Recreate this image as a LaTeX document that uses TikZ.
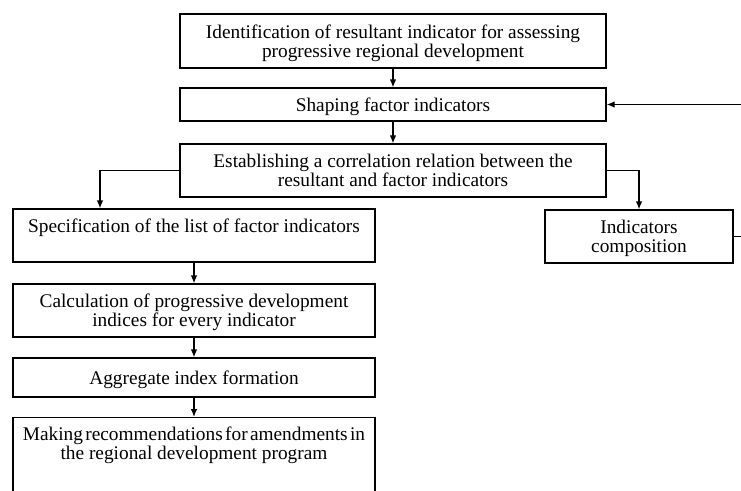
\documentclass[tikz,border=0pt]{standalone}
\usepackage{fontspec}
\setmainfont{Liberation Serif}
\usetikzlibrary{arrows.meta}
\tikzset{
  box/.style={draw, line width=1pt, align=center, inner sep=0pt, text depth=0pt,
    font=\fontsize{14.5}{14}\selectfont},
  label/.style={align=center, inner sep=0pt, text depth=0pt,
    font=\fontsize{14.5}{14}\selectfont},
  arrow/.style={line width=1pt, -{Latex[length=6pt,width=5pt]}}
}
\newcommand{\tightwords}{\spaceskip=0.12em plus 0.05em\relax}
\begin{document}
\begin{tikzpicture}[x=0.75pt,y=-0.75pt]
  \useasboundingbox (0,0) rectangle (741,490);
  \fill[white] (0,0) rectangle (741,490);
  \clip (0,0) rectangle (741,490);

  % main column
  \node[box, minimum width=426*0.75pt, minimum height=54*0.75pt] (b1) at (393,41)
    {Identification of resultant indicator for assessing\\progressive regional development};
  \node[box, minimum width=426*0.75pt, minimum height=33*0.75pt] (b2) at (393,104.5)
    {Shaping factor indicators};
  \node[box, minimum width=426*0.75pt, minimum height=53*0.75pt] (b3) at (393,170.5)
    {Establishing a correlation relation between the\\resultant and factor indicators};

  % right branch
  \node[box, minimum width=188*0.75pt, minimum height=53*0.75pt] (comp) at (639,236.5)
    {Indicators\\composition};

  % left branch
  \node[box, minimum width=362*0.75pt, minimum height=53*0.75pt] (b4) at (194,235.5)
    {Specification of the list of factor indicators\\\mbox{}};
  \node[box, minimum width=362*0.75pt, minimum height=53*0.75pt] (b5) at (194,310.5)
    {Calculation of progressive development\\indices for every indicator};
  \node[box, minimum width=362*0.75pt, minimum height=39*0.75pt] (b6) at (194,377.5)
    {Aggregate index formation};
  \node[box, minimum width=362*0.75pt, minimum height=90*0.75pt, anchor=north] (b7) at (194,417) {};
  \node[label] (b7t) at (194,443)
    {{\tightwords Making recommendations for amendments in}\\the regional development program};

  % connectors
  \draw[arrow] (b1) -- (b2);
  \draw[arrow] (b2) -- (b3);
  \coordinate (lx) at (100,0);
  \draw[arrow] (b3.west) -| (b4.north -| lx);
  \draw[arrow] (b3.east) -| (comp.north);
  \draw[arrow] (b4) -- (b5);
  \draw[arrow] (b5) -- (b6);
  \draw[arrow] (b6) -- (b7);
  \coordinate (rx) at (760,0);
  \draw[arrow] (comp.east) -| (rx |- b2.east) -- (b2.east);
\end{tikzpicture}
\end{document}
